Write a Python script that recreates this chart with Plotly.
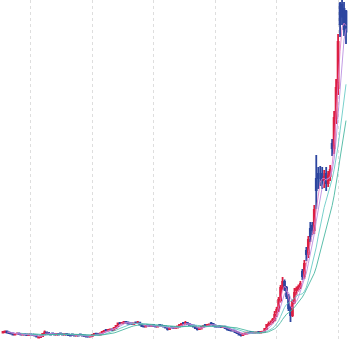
import plotly.graph_objects as go

# Daily candles (index positions), prices
opens = [
    3.3, 3.4, 3.5, 3.3, 3.2, 3.1, 2.9, 3.1, 3.1, 3.0,
    2.9, 3.0, 2.9, 2.8, 2.9, 2.86, 2.8, 2.7, 2.3, 2.4,
    2.6, 3.0, 3.3, 3.2, 3.0, 3.1, 3.0, 2.9, 3.0, 3.1,
    3.0, 2.9, 3.0, 2.9, 2.8, 2.9, 2.8, 2.7, 2.8, 2.9,
    2.8, 2.7, 2.6, 2.5, 2.46, 2.6, 2.8, 3.05, 3.0, 2.9,
    3.1, 3.4, 3.8, 3.7, 3.8, 3.9, 3.8, 4.2, 4.6, 5.2,
    5.14, 5.2, 5.4, 5.3, 5.1, 5.1, 5.0, 5.3, 5.2, 5.26,
    4.9, 4.6, 4.46, 4.8, 4.7, 4.6, 4.8, 4.6, 4.5, 4.8,
    4.7, 4.6, 4.5, 4.3, 4.0, 4.4, 4.3, 4.2, 4.3, 4.5,
    4.8, 5.2, 5.1, 5.2, 5.0, 4.8, 4.7, 4.5, 4.2, 4.0,
    4.1, 4.4, 4.8, 4.7, 4.8, 5.1, 5.0, 4.7, 4.5, 4.6,
    4.5, 4.4, 4.46, 4.2, 4.0, 3.8, 3.7, 3.66, 3.4, 3.2,
    2.9, 2.8, 3.0, 3.1, 3.26, 3.4, 3.3, 3.2, 3.26, 3.4,
    3.26, 3.4, 3.46, 4.0, 4.8, 5.4, 5.4, 5.8, 7.4, 7.8,
    9.8, 12.2, 13.4, 12.2, 10.6, 8.2, 6.8, 9.4, 11.8, 12.0,
    12.4, 15.4, 14.6, 19.6, 19.0, 24.0, 24.6, 23.8, 34.0, 35.0,
    34.2, 35.0, 33.8, 35.0, 33.2, 34.6, 41.0, 40.2, 46.2, 52.2,
    69.0, 68.8, 68.0, 67.5,
]
closes = [
    3.4, 3.5, 3.3, 3.2, 3.1, 2.9, 3.0, 3.1, 3.0, 2.9,
    3.0, 2.9, 2.8, 2.9, 2.86, 2.8, 2.7, 2.5, 2.4, 2.6,
    3.0, 3.3, 3.2, 3.0, 2.9, 3.0, 2.9, 3.0, 2.9, 3.0,
    2.9, 3.0, 2.9, 2.8, 2.7, 2.8, 2.7, 2.8, 2.7, 2.8,
    2.7, 2.6, 2.5, 2.46, 2.6, 2.8, 3.0, 3.0, 2.9, 3.1,
    3.4, 3.6, 3.7, 3.8, 3.9, 3.8, 4.2, 4.6, 5.1, 5.14,
    5.2, 5.4, 5.3, 5.1, 5.0, 5.0, 5.1, 5.2, 5.26, 4.9,
    4.6, 4.46, 4.6, 4.7, 4.6, 4.7, 4.6, 4.5, 4.6, 4.7,
    4.6, 4.5, 4.3, 4.0, 4.2, 4.3, 4.2, 4.3, 4.5, 4.8,
    5.0, 5.1, 5.2, 5.0, 4.8, 4.7, 4.5, 4.2, 4.0, 4.1,
    4.4, 4.6, 4.7, 4.8, 4.9, 5.0, 4.7, 4.5, 4.46, 4.5,
    4.4, 4.46, 4.2, 4.0, 3.8, 3.7, 3.66, 3.4, 3.2, 2.9,
    2.8, 3.0, 3.1, 3.26, 3.2, 3.3, 3.2, 3.26, 3.3, 3.26,
    3.4, 3.46, 4.0, 4.8, 5.0, 5.4, 5.8, 6.8, 7.8, 9.8,
    12.2, 13.4, 12.2, 10.6, 8.2, 6.8, 9.4, 11.2, 12.0, 12.4,
    13.0, 14.6, 17.0, 19.0, 21.8, 22.6, 23.8, 27.8, 31.8, 34.2,
    34.2, 33.8, 34.4, 33.2, 34.6, 35.8, 40.2, 46.2, 52.2, 61.4,
    65.0, 66.5, 64.0, 63.5,
]
highs = [
    3.6, 3.6, 3.6, 3.4, 3.3, 3.3, 3.1, 3.3, 3.2, 3.1,
    3.2, 3.1, 3.0, 3.0, 3.0, 2.96, 2.9, 2.8, 2.5, 2.7,
    3.1, 3.7, 3.4, 3.3, 3.1, 3.2, 3.1, 3.1, 3.1, 3.2,
    3.1, 3.1, 3.1, 3.0, 2.9, 3.0, 2.9, 2.9, 2.9, 3.0,
    2.9, 2.8, 2.7, 2.6, 2.7, 2.9, 3.1, 3.2, 3.1, 3.2,
    3.5, 3.7, 3.9, 3.9, 4.0, 4.0, 4.3, 4.7, 5.3, 5.3,
    5.3, 5.6, 5.5, 5.4, 5.2, 5.2, 5.2, 5.4, 5.6, 5.36,
    5.0, 4.7, 4.7, 4.9, 4.8, 4.8, 4.9, 4.7, 4.7, 4.9,
    4.8, 4.7, 4.6, 4.4, 4.3, 4.5, 4.4, 4.4, 4.6, 4.9,
    5.1, 5.4, 5.6, 5.3, 5.1, 4.9, 4.8, 4.6, 4.3, 4.2,
    4.5, 4.7, 4.9, 4.9, 5.0, 5.4, 5.1, 4.8, 4.6, 4.7,
    4.6, 4.56, 4.56, 4.3, 4.1, 3.9, 3.8, 3.76, 3.5, 3.3,
    3.0, 3.1, 3.2, 3.36, 3.36, 3.5, 3.4, 3.36, 3.4, 3.5,
    3.5, 3.56, 4.2, 5.0, 5.5, 5.7, 6.2, 7.6, 8.4, 10.4,
    12.8, 14.4, 13.9, 12.6, 11.0, 8.6, 9.9, 12.2, 12.5, 12.9,
    13.6, 16.0, 17.8, 20.4, 22.6, 25.4, 25.4, 28.8, 38.8, 36.4,
    36.6, 36.4, 35.8, 36.4, 35.6, 36.8, 42.0, 47.6, 54.0, 63.0,
    69.4, 69.8, 69.4, 67.8,
]
lows = [
    3.1, 3.3, 3.2, 3.1, 3.0, 2.7, 2.8, 2.9, 2.9, 2.8,
    2.8, 2.8, 2.7, 2.7, 2.76, 2.7, 2.6, 2.4, 2.2, 2.3,
    2.5, 2.9, 3.1, 2.9, 2.7, 2.8, 2.8, 2.8, 2.8, 2.8,
    2.8, 2.8, 2.8, 2.7, 2.6, 2.6, 2.6, 2.6, 2.6, 2.6,
    2.6, 2.5, 2.4, 2.3, 2.36, 2.5, 2.7, 2.9, 2.8, 2.8,
    3.0, 3.3, 3.5, 3.6, 3.7, 3.7, 3.7, 4.1, 4.5, 5.0,
    5.0, 5.1, 5.2, 5.0, 4.9, 4.9, 4.9, 5.0, 5.1, 4.8,
    4.5, 4.3, 4.36, 4.5, 4.5, 4.5, 4.5, 4.4, 4.4, 4.5,
    4.5, 4.4, 4.2, 3.7, 3.9, 4.1, 4.1, 4.1, 4.2, 4.4,
    4.7, 4.9, 5.0, 4.9, 4.7, 4.6, 4.4, 4.1, 3.7, 3.9,
    4.0, 4.3, 4.5, 4.6, 4.7, 4.8, 4.6, 4.4, 4.36, 4.36,
    4.3, 4.3, 4.1, 3.7, 3.7, 3.6, 3.56, 3.3, 3.1, 2.7,
    2.5, 2.7, 2.9, 3.0, 3.1, 3.1, 3.1, 3.1, 3.16, 3.16,
    3.16, 3.3, 3.36, 3.8, 4.6, 4.8, 5.1, 5.5, 6.4, 7.4,
    9.3, 11.8, 11.6, 10.0, 7.6, 5.4, 6.4, 9.0, 10.8, 11.5,
    12.0, 13.8, 14.0, 17.6, 18.2, 21.4, 22.8, 23.0, 28.0, 32.0,
    32.6, 32.0, 32.2, 31.6, 32.4, 33.6, 38.6, 39.0, 45.0, 50.8,
    62.4, 64.8, 62.6, 61.0,
]

ma_windows = [3, 5, 10, 16]
ma_colors = ["#e27bc6", "#b78be0", "#62c9c4", "#3fb39c"]

n = len(closes)
assert len(opens) == n and len(highs) == n and len(lows) == n
days = list(range(n))


def moving_average(values, window):
    out = []
    for i in range(len(values)):
        if i < window - 1:
            out.append(None)
        else:
            out.append(sum(values[i - window + 1:i + 1]) / window)
    return out


fig = go.Figure()
for w, c in zip(ma_windows, ma_colors):
    fig.add_trace(go.Scatter(
        x=days, y=moving_average(closes, w), mode="lines",
        line=dict(color=c, width=1), opacity=0.85, name=f"MA{w}",
    ))
fig.add_trace(go.Candlestick(
    x=days, open=opens, high=highs, low=lows, close=closes,
    increasing=dict(line=dict(color="#dc1f42", width=1.8), fillcolor="#dc1f42"),
    decreasing=dict(line=dict(color="#2d46a0", width=1.8), fillcolor="#2d46a0"),
    whiskerwidth=0,
    name="Daily",
))

fig.update_layout(
    width=350, height=339,
    margin=dict(l=0, r=0, t=0, b=0),
    paper_bgcolor="white", plot_bgcolor="white",
    showlegend=False,
    xaxis=dict(
        range=[-1.513, 175.01], showgrid=True, gridcolor="#dedede",
        griddash="3px,3px", gridwidth=1, tick0=14, dtick=31,
        showticklabels=False, zeroline=False, showline=False,
        rangeslider=dict(visible=False), ticks="",
    ),
    yaxis=dict(
        range=[2, 69.8], showgrid=False, showticklabels=False,
        zeroline=False, showline=False, ticks="",
    ),
)

fig.write_html("out.html", config={"displayModeBar": False})
